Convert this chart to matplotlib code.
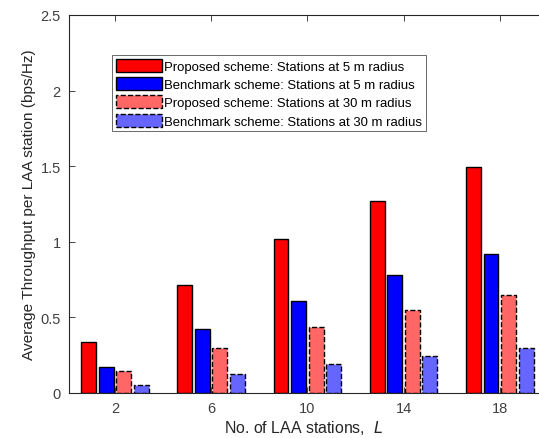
import matplotlib
matplotlib.use('Agg')
import matplotlib.pyplot as plt
import numpy as np

plt.rcParams['font.family'] = ['Liberation Sans', 'DejaVu Sans']

# data
stations = [2, 6, 10, 14, 18]
proposed_5m = [0.335, 0.715, 1.02, 1.27, 1.495]
benchmark_5m = [0.175, 0.42, 0.61, 0.78, 0.92]
proposed_30m = [0.145, 0.30, 0.435, 0.55, 0.645]
benchmark_30m = [0.055, 0.125, 0.19, 0.245, 0.295]

series = [
    ('Proposed scheme: Stations at 5 m radius', proposed_5m, '#FF0000', '-'),
    ('Benchmark scheme: Stations at 5 m radius', benchmark_5m, '#0000FF', '-'),
    ('Proposed scheme: Stations at 30 m radius', proposed_30m, '#FF6666', '--'),
    ('Benchmark scheme: Stations at 30 m radius', benchmark_30m, '#6666FF', '--'),
]

fig = plt.figure(figsize=(5.39, 4.39), dpi=100)
ax = fig.add_axes([69 / 539, 1 - 394 / 439, 1 - 69 / 539, 378 / 439])

x = np.array(stations, dtype=float)
step = 0.73
width = 0.62
offsets = (np.arange(4) - 1.5) * step
for (label, vals, color, ls), off in zip(series, offsets):
    ax.bar(x + off, vals, width, color=color, edgecolor='black',
           linewidth=1.0, linestyle=ls, label=label)

ax.set_xlim(0.09, 19.63)
ax.set_ylim(0, 2.5)
ax.set_xticks(stations)
ax.set_yticks([0, 0.5, 1, 1.5, 2, 2.5])
ax.set_yticklabels(['0', '0.5', '1', '1.5', '2', '2.5'])

ax.tick_params(direction='in', length=4, width=0.6, colors='#262626',
               labelsize=10.5, top=True, right=False, pad=6)
ax.tick_params(axis='x', labelcolor='#404040')
ax.tick_params(axis='y', labelcolor='#404040')
for side in ['left', 'top', 'bottom']:
    ax.spines[side].set_color('#262626')
    ax.spines[side].set_linewidth(0.8)
ax.spines['right'].set_visible(False)

xl = ax.set_xlabel('No. of LAA stations,  $\\mathit{L}$', fontsize=11,
                   color='#262626', labelpad=2)
yl = ax.set_ylabel('Average Throughput per LAA station (bps/Hz)', fontsize=11,
                   color='#262626', labelpad=3)

# fit font sizes to measured text widths in the reference (pixels)
r = fig.canvas.get_renderer()
w = xl.get_window_extent(r).width
xl.set_fontsize(11 * 159 / w)
h = yl.get_window_extent(r).height
yl.set_fontsize(11 * 309 / h)

leg_fs = 9.0
probe = fig.text(0, 0, series[0][0], fontsize=leg_fs)
pw = probe.get_window_extent(r).width
probe.remove()
leg_fs = leg_fs * 240 / pw

leg = ax.legend(loc='upper left', bbox_to_anchor=((112 - 69) / 470, (394 - 56) / 378),
                fontsize=leg_fs, frameon=True, fancybox=False, borderpad=0.3,
                labelspacing=0.33, handlelength=3.5, handleheight=1.15,
                handletextpad=0.2, borderaxespad=0)
leg.get_frame().set_edgecolor('#262626')
leg.get_frame().set_linewidth(0.6)

fig.savefig('out.png', dpi=100)
